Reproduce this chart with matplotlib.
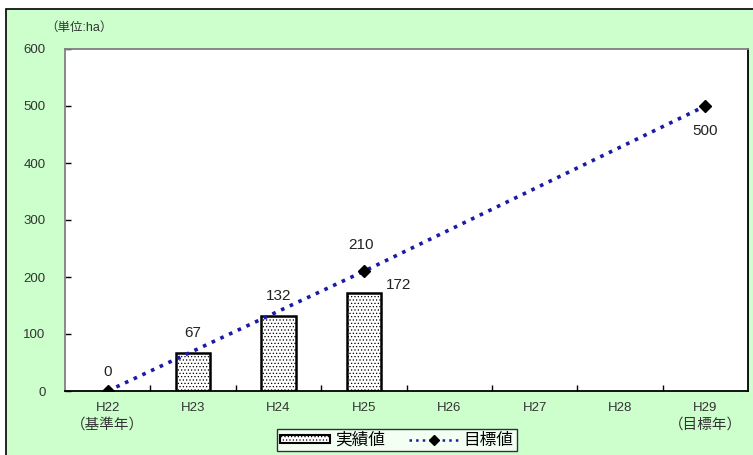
import numpy as np
import matplotlib
matplotlib.use("Agg")
import matplotlib.pyplot as plt
import matplotlib.transforms as mtransforms
from matplotlib.patches import Rectangle
from matplotlib.lines import Line2D

plt.rcParams['font.family'] = ['Liberation Sans', 'Noto Sans CJK JP']
plt.rcParams['hatch.linewidth'] = 0.5

# data
years = ['H22', 'H23', 'H24', 'H25', 'H26', 'H27', 'H28', 'H29']
year_notes = {'H22': '（基準年）', 'H29': '（目標年）'}
actual_years = ['H23', 'H24', 'H25']
actual = [67, 132, 172]
target_years = ['H22', 'H25', 'H29']
target = [0, 210, 500]

bg = '#ccffcc'
fig = plt.figure(figsize=(7.53, 4.55), dpi=100)
fig.patch.set_facecolor('white')
# green panel with a black frame on the left and top
fig.patches.append(Rectangle((6 / 753, -0.01), 1.0, (455 - 9) / 455 + 0.01,
                             transform=fig.transFigure, facecolor=bg,
                             edgecolor='black', linewidth=1.2, zorder=-10))

ax = fig.add_axes([65 / 753, (455 - 391) / 455, 683 / 753, 342 / 455])
ax.set_facecolor('white')

pos = {y: i for i, y in enumerate(years)}
xa = [pos[y] for y in actual_years]
xt = [pos[y] for y in target_years]

ax.bar(xa, actual, width=0.4, facecolor='white', edgecolor='black',
       linewidth=1.8, hatch='.....', zorder=2)
line_col = '#1a1aa8'
ax.plot(xt, target, linestyle=':', color=line_col, linewidth=2.6, zorder=3)
ax.plot(xt, target, linestyle='none', marker='D', markersize=6.5,
        color='black', zorder=4)

# value labels
fs = 11
tc = '#222222'
ax.annotate(str(target[0]), (xt[0], target[0]), xytext=(0, 14),
            textcoords='offset points', ha='center', va='center', fontsize=fs, color=tc)
ax.annotate(str(target[1]), (xt[1], target[1]), xytext=(-2, 19),
            textcoords='offset points', ha='center', va='center', fontsize=fs, color=tc)
ax.annotate(str(target[2]), (xt[2], target[2]), xytext=(0, -18),
            textcoords='offset points', ha='center', va='center', fontsize=fs, color=tc)
for x, v in zip(xa[:2], actual[:2]):
    ax.annotate(str(v), (x, v), xytext=(0, 14), textcoords='offset points',
                ha='center', va='center', fontsize=fs, color=tc)
ax.annotate(str(actual[2]), (xa[2], actual[2]), xytext=(25, 6),
            textcoords='offset points', ha='center', va='center', fontsize=fs, color=tc)

ax.set_xlim(-0.5, len(years) - 0.5)
ax.set_ylim(0, 600)
ax.set_yticks(np.arange(0, 601, 100))
ax.set_xticks(range(len(years)))
ax.set_xticklabels(years, fontsize=9.5, color='#333333')
ax.set_xticks(np.arange(0.5, len(years) - 0.5, 1), minor=True)
ax.tick_params(axis='x', which='major', length=0, pad=8)
ax.tick_params(axis='x', which='minor', direction='in', length=4, width=1)
ax.tick_params(axis='y', direction='in', length=4, width=1, labelsize=9.5,
               labelcolor='#333333', pad=14)
ax.spines['top'].set_color('#808080')
ax.spines['left'].set_color('#808080')
for s in ['right', 'bottom']:
    ax.spines[s].set_color('black')
for s in ax.spines.values():
    s.set_linewidth(1.3)

# second line under the first and last year
trans = mtransforms.blended_transform_factory(ax.transData, ax.transAxes)
for y, note in year_notes.items():
    ax.text(pos[y], -34 / 342, note, transform=trans, ha='center', va='center',
            fontsize=10.5, color='#333333')

fig.text(45 / 753, 1 - 28 / 455, '（単位:ha）', fontsize=9, color='#333333',
         va='center', ha='left')

handles = [Rectangle((0, 0), 1, 1, facecolor='white', edgecolor='black',
                     linewidth=1.5, hatch='.....'),
           Line2D([], [], linestyle=':', color=line_col, linewidth=1.8,
                  marker='D', markersize=5, markerfacecolor='black',
                  markeredgecolor='black')]
leg = fig.legend(handles, ['実績値', '目標値'], loc='center',
                 bbox_to_anchor=(397 / 753, 1 - 440 / 455), ncol=2,
                 frameon=True, fancybox=False, fontsize=12,
                 handlelength=3.0, handleheight=0.4, columnspacing=1.4,
                 borderpad=0.2, handletextpad=0.3, borderaxespad=0)
leg.get_frame().set_edgecolor('black')
leg.get_frame().set_linewidth(1.0)
leg.get_frame().set_facecolor('white')

fig.savefig('out.png', dpi=100, facecolor=fig.get_facecolor())
